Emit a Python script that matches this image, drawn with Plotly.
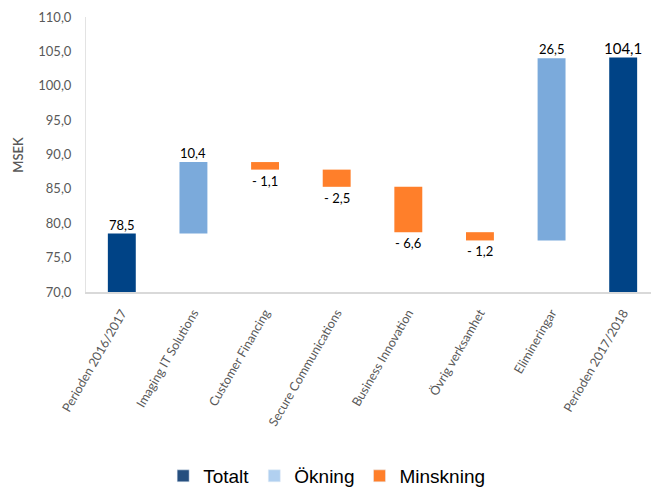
import plotly.graph_objects as go

categories = ["Perioden 2016/2017", "Imaging IT Solutions", "Customer Financing",
              "Secure Communications", "Business Innovation", "Övrig verksamhet",
              "Elimineringar", "Perioden 2017/2018"]
kinds = ["total", "inc", "dec", "dec", "dec", "dec", "inc", "total"]
values = [78.5, 10.4, -1.1, -2.5, -6.6, -1.2, 26.5, 104.1]
labels = ["78,5", "10,4", "- 1,1", "- 2,5", "- 6,6", "- 1,2", "26,5", "104,1"]
y_ticks = [70, 75, 80, 85, 90, 95, 100, 105, 110]
y_tick_text = ["70,0", "75,0", "80,0", "85,0", "90,0", "95,0", "100,0", "105,0", "110,0"]
axis_floor = 70.0

bar_colors = {"total": "#004386", "inc": "#7BAADB", "dec": "#FF7F2A"}
legend_colors = {"total": "#264F7F", "inc": "#B1D0F0", "dec": "#FF7F2A"}
legend_names = {"total": "Totalt", "inc": "Ökning", "dec": "Minskning"}

# compute bases / heights
bases, heights, tops, bottoms = [], [], [], []
running = 0.0
for k, v in zip(kinds, values):
    if k == "total":
        b, h = axis_floor, v - axis_floor
        running = v
    else:
        start = running
        end = running + v
        b, h = min(start, end), abs(v)
        running = end
    bases.append(b); heights.append(h)
    bottoms.append(b); tops.append(b + h)

fig = go.Figure()
for k in ["total", "inc", "dec"]:
    xs = [c for c, kk in zip(categories, kinds) if kk == k]
    hs = [h for h, kk in zip(heights, kinds) if kk == k]
    bs = [b for b, kk in zip(bases, kinds) if kk == k]
    fig.add_trace(go.Bar(x=xs, y=hs, base=bs, marker_color=bar_colors[k],
                         marker_line_width=0, width=0.39, showlegend=False,
                         hoverinfo="skip"))
    # legend-only entries
    fig.add_trace(go.Bar(x=[None], y=[None], name=legend_names[k],
                         marker_color=legend_colors[k], showlegend=True))

for c, k, lab, t, b in zip(categories, kinds, labels, tops, bottoms):
    if k == "dec":
        fig.add_annotation(x=c, y=b, text=lab, showarrow=False, yanchor="top",
                           yshift=-1, font=dict(family="Lato", size=13, color="#000000"))
    else:
        size = 15 if lab == "104,1" else 13
        fig.add_annotation(x=c, y=t, text=lab, showarrow=False, yanchor="bottom",
                           yshift=-1, font=dict(family="Lato", size=size, color="#000000"))

fig.add_annotation(xref="paper", yref="paper", x=-0.12, y=0.5, text="MSEK",
                   textangle=-90, showarrow=False, xanchor="center", yanchor="middle",
                   font=dict(family="Lato", size=13, color="#595959", weight=600))

fig.update_layout(
    width=659, height=489,
    margin=dict(l=78, r=8, t=9, b=205, autoexpand=False),
    paper_bgcolor="white", plot_bgcolor="white",
    barmode="overlay", bargap=0.6,
    showlegend=True,
    legend=dict(orientation="h", x=0.42, xanchor="center", y=-0.60, yanchor="top",
                font=dict(family="Liberation Sans", size=19, color="#000000"),
                itemwidth=30, traceorder="normal"),
    xaxis=dict(type="category", categoryorder="array", categoryarray=categories,
               range=[-0.5, 7.5], tickangle=-60, showgrid=False, showline=True,
               linecolor="#D9D9D9", linewidth=1.5, ticks="", automargin=False,
               ticklabelstandoff=7,
               tickfont=dict(family="Lato", size=12.5, color="#595959")),
    yaxis=dict(range=[70, 110], tickvals=y_ticks, ticktext=y_tick_text,
               showgrid=False, showline=True, linecolor="#E3E3E3", linewidth=1,
               ticks="", zeroline=False, automargin=False, ticklabelstandoff=11,
               tickfont=dict(family="Lato", size=13, color="#595959")),
)

fig.write_html("out.html")
